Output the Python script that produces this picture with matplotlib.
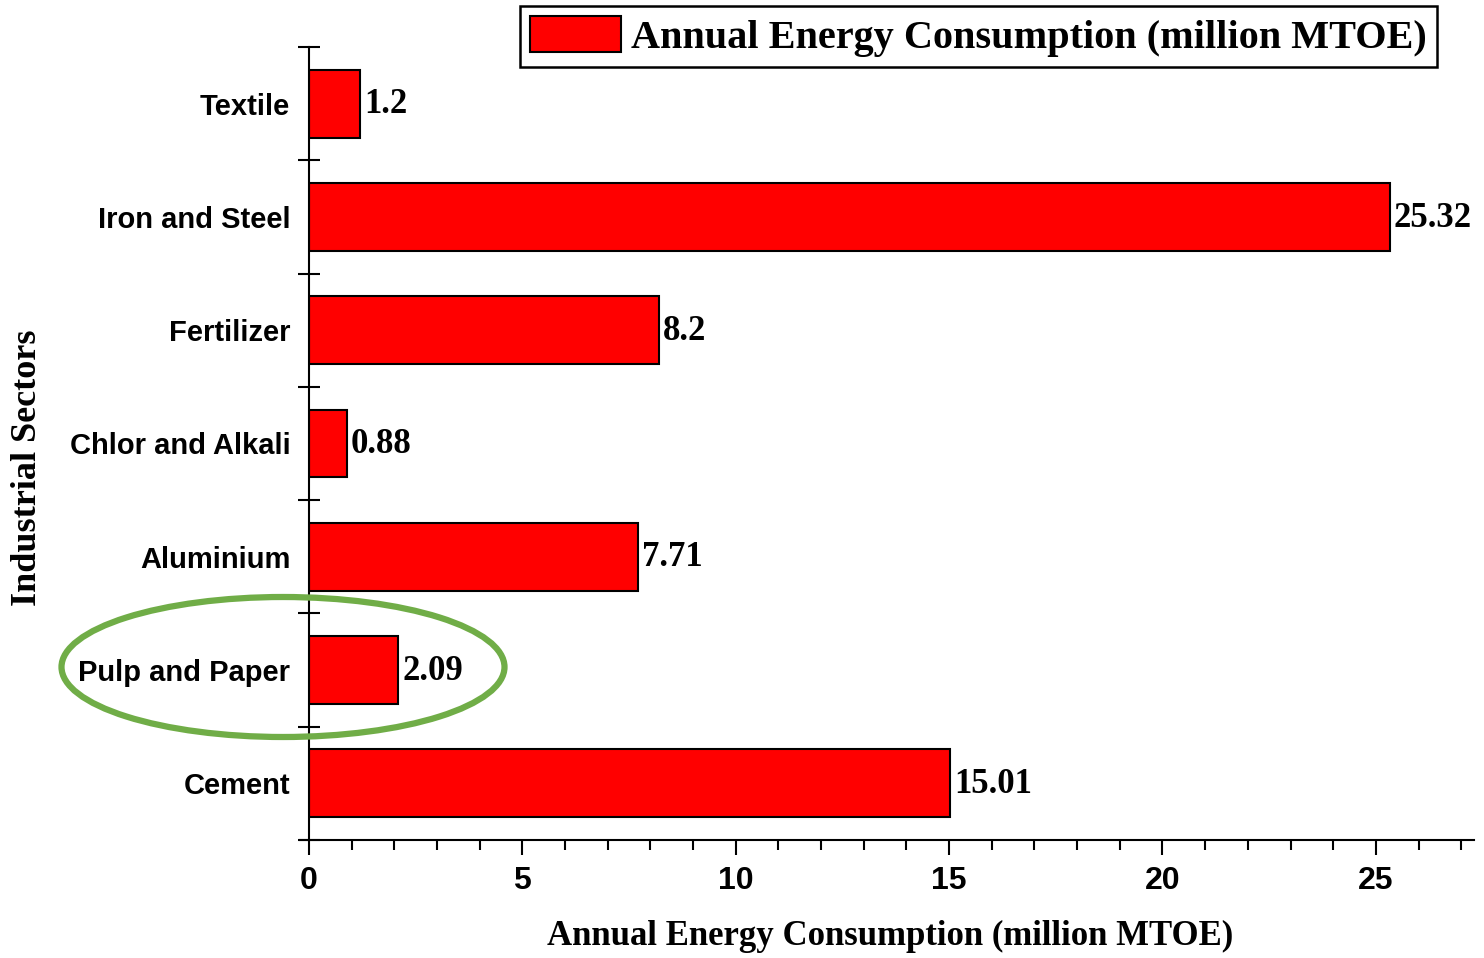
import matplotlib.pyplot as plt
from matplotlib.patches import Ellipse
from matplotlib.ticker import MultipleLocator, FixedLocator

# sectors from bottom to top
sectors = ['Cement', 'Pulp and Paper', 'Aluminium', 'Chlor and Alkali',
           'Fertilizer', 'Iron and Steel', 'Textile']
consumption = [15.01, 2.09, 7.71, 0.88, 8.2, 25.32, 1.2]
value_labels = ['15.01', '2.09', '7.71', '0.88', '8.2', '25.32', '1.2']
xtick_vals = [0, 5, 10, 15, 20, 25]
xtick_labels = ['0', '5', '10', '15', '20', '25']

serif = 'Liberation Serif'
sans = 'Liberation Sans'

fig = plt.figure(figsize=(14.84, 9.58), dpi=100)
ax = fig.add_axes([309 / 1484, 1 - 840 / 958, (1474 - 309) / 1484, (840 - 47) / 958])

pos = list(range(len(sectors)))
ax.barh(pos, consumption, height=0.6, color='#ff0000', edgecolor='black',
        linewidth=1.5, label='Annual Energy Consumption (million MTOE)')

for y, v, txt in zip(pos, consumption, value_labels):
    ax.text(v + 0.1, y - 0.01, txt, va='center', ha='left',
            fontsize=25, fontweight='bold', family=serif)

ax.set_xlim(0, 27.3)
ax.set_ylim(-0.5, len(sectors) - 0.5)

# category boundaries carry the ticks, labels sit at the centres
ax.yaxis.set_major_locator(FixedLocator([i - 0.5 for i in range(len(sectors) + 1)]))
ax.yaxis.set_minor_locator(FixedLocator(pos))
ax.set_yticklabels([''] * (len(sectors) + 1))
ax.set_yticks(pos, labels=sectors, minor=True)
ax.tick_params(axis='y', which='major', direction='inout', length=16, width=1.5)
ax.tick_params(axis='y', which='minor', length=0, pad=13.5, labelsize=21,
               labelfontfamily=sans)
plt.setp(ax.get_yticklabels(minor=True), fontweight='bold')

ax.set_xticks(xtick_vals, labels=xtick_labels)
ax.xaxis.set_minor_locator(MultipleLocator(1))
ax.tick_params(axis='x', which='major', direction='out', length=11, width=1.5, pad=8,
               labelsize=23, labelfontfamily=sans)
ax.tick_params(axis='x', which='minor', direction='out', length=7, width=1.5)
plt.setp(ax.get_xticklabels(), fontweight='bold')

ax.spines['top'].set_visible(False)
ax.spines['right'].set_visible(False)
ax.spines['left'].set_linewidth(1.5)
ax.spines['bottom'].set_linewidth(1.5)
ax.spines['bottom'].set_bounds(-0.22, 27.3)

ax.set_xlabel('Annual Energy Consumption (million MTOE)', fontsize=25,
              fontweight='bold', family=serif)
ax.xaxis.set_label_coords((890 - 309) / 1165, (840 - 920) / 793)
ax.set_ylabel('Industrial Sectors', fontsize=26, fontweight='bold', family=serif)
ax.yaxis.set_label_coords((44 - 309) / 1165, (840 - 468) / 793)

leg = ax.legend(loc='upper right', bbox_to_anchor=(1437 / 1484, 1 - 6 / 958),
                bbox_transform=fig.transFigure, fancybox=False, framealpha=1,
                edgecolor='black', handlelength=2.25, handleheight=1.0,
                borderpad=0.25, borderaxespad=0, handletextpad=0.25,
                prop={'family': serif, 'weight': 'bold', 'size': 29})
leg.get_frame().set_linewidth(1.8)

# highlight the pulp and paper sector
ring = Ellipse((283 / 1484, 1 - 667 / 958), 443 / 1484, 140 / 958,
               transform=fig.transFigure, fill=False, edgecolor='#70ad47',
               linewidth=4.5, clip_on=False)
fig.patches.append(ring)

fig.savefig('out.png', dpi=100)
